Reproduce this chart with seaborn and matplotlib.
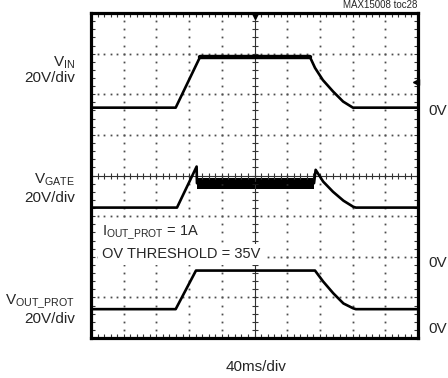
import numpy as np
import matplotlib.pyplot as plt
import seaborn as sns

# time in divisions (40ms/div), level in divisions from the bottom of the screen
vin_t = [0.0, 2.59, 3.33, 6.70, 6.85, 7.09, 7.40, 7.71, 8.01, 10.0]
vin_v = [5.67, 5.67, 6.91, 6.91, 6.65, 6.35, 6.07, 5.82, 5.67, 5.67]

gate_t = [0.0, 2.63, 3.23, 3.24, 6.82, 6.87, 7.10, 7.40, 7.72, 8.02, 8.10, 10.0]
gate_v = [3.21, 3.21, 4.22, 3.81, 3.81, 4.14, 3.85, 3.60, 3.38, 3.23, 3.21, 3.21]
gate_band_t = [3.24, 6.82]
gate_band_lo = [3.66, 3.66]
gate_band_hi = [3.94, 3.94]

vout_t = [0.0, 2.59, 3.21, 6.85, 7.10, 7.41, 7.72, 8.02, 8.10, 10.0]
vout_v = [0.71, 0.71, 1.66, 1.66, 1.39, 1.10, 0.85, 0.73, 0.71, 0.71]

# trigger markers
trig_pos = [5.0, 7.92]
trig_lvl = [9.93, 6.30]

sns.set_style("white")
plt.rcParams["font.family"] = ["Liberation Sans", "DejaVu Sans"]
plt.rcParams["mathtext.default"] = "regular"

W, H = 448, 378
fig = plt.figure(figsize=(W / 100, H / 100), dpi=100)
ax = fig.add_axes([91 / W, 40 / H, 327 / W, 325 / H])
ax.set_xlim(0, 10)
ax.set_ylim(0, 8)
ax.set_xticks(range(11))
ax.set_yticks(range(9))
ax.set_xticks(np.arange(0, 10.001, 0.2), minor=True)
ax.set_yticks(np.arange(0, 8.001, 0.2), minor=True)
ax.tick_params(which="both", direction="in", length=3, width=0.8,
               labelbottom=False, labelleft=False, bottom=True, top=True,
               left=True, right=True, color="0.2")
for s in ax.spines.values():
    s.set_linewidth(2.3)
    s.set_color("black")

# graticule: dotted lines every division, ticked center lines
minor_x = np.arange(0, 10.001, 0.2)
minor_y = np.arange(0, 8.001, 0.2)
for gy in range(1, 8):
    if gy != 4:
        ax.plot(minor_x, np.full_like(minor_x, gy), ls="none", marker="s",
                ms=1.3, color="0.3", mew=0)
for gx in range(1, 10):
    if gx != 5:
        ax.plot(np.full_like(minor_y, gx), minor_y, ls="none", marker="s",
                ms=1.3, color="0.3", mew=0)
ax.axhline(4, color="0.2", lw=0.8)
ax.axvline(5, color="0.2", lw=0.8)
ax.plot(minor_x, np.full_like(minor_x, 4), ls="none", marker="|", ms=5,
        mew=0.8, color="0.2")
ax.plot(np.full_like(minor_y, 5), minor_y, ls="none", marker="_", ms=5,
        mew=0.8, color="0.2")

# traces
lw = 1.9
sns.lineplot(x=vin_t, y=vin_v, sort=False, estimator=None, color="black",
             lw=lw, ax=ax)
sns.lineplot(x=vin_t[2:4], y=vin_v[2:4], sort=False, estimator=None,
             color="black", lw=3.2, ax=ax)
sns.lineplot(x=gate_t, y=gate_v, sort=False, estimator=None, color="black",
             lw=lw, ax=ax)
ax.fill_between(gate_band_t, gate_band_lo, gate_band_hi, color="black", lw=0)
sns.lineplot(x=vout_t, y=vout_v, sort=False, estimator=None, color="black",
             lw=lw, ax=ax)

ax.plot(trig_pos[0], trig_pos[1], marker="v", ms=5, color="black", clip_on=False)
ax.plot(trig_lvl[0], trig_lvl[1], marker="<", ms=5, color="black", clip_on=False)

# annotation inside screen
box = dict(facecolor="white", edgecolor="none", pad=2.5)
ax.text(0.33, 2.59, r"I$_{OUT\_PROT}$ = 1A", fontsize=10.5, va="center",
        ha="left", bbox=box, zorder=5)
ax.text(0.33, 2.06, "OV THRESHOLD = 35V", fontsize=10.5, va="center",
        ha="left", bbox=box, zorder=5)

# channel labels
def ftxt(x, y, s, **kw):
    fig.text(x / W, 1 - y / H, s, **kw)

fs = 11
ftxt(75, 66.7, r"V$_{IN}$", ha="right", va="baseline", fontsize=fs)
ftxt(75, 81.7, "20V/div", ha="right", va="baseline", fontsize=fs)
ftxt(75, 183.3, r"V$_{GATE}$", ha="right", va="baseline", fontsize=fs)
ftxt(75, 201.7, "20V/div", ha="right", va="baseline", fontsize=fs)
ftxt(75, 305, r"V$_{OUT\_PROT}$", ha="right", va="baseline", fontsize=fs)
ftxt(75, 323.3, "20V/div", ha="right", va="baseline", fontsize=fs)

for yb in [115, 266.7, 333.3]:
    ftxt(428, yb, "0V", ha="left", va="baseline", fontsize=fs)

ftxt(256.5, 370.7, "40ms/div", ha="center", va="baseline", fontsize=fs)
ftxt(417, 8.5, "MAX15008 toc28", ha="right", va="baseline", fontsize=7)

fig.savefig("out.png", dpi=100)
